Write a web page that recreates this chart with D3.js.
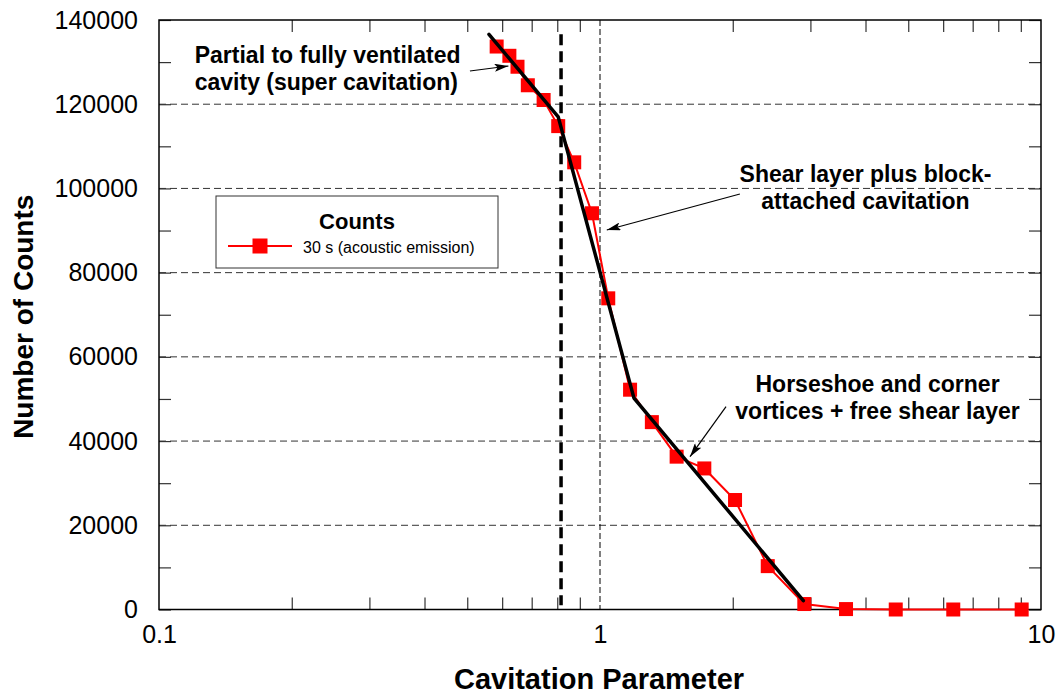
<!DOCTYPE html>
<html><head><meta charset="utf-8">
<script src="https://cdn.jsdelivr.net/npm/d3@7"></script>
<style>
html,body{margin:0;padding:0;background:#fff;}
text{font-family:"Liberation Sans",Arial,Helvetica,sans-serif;}
</style></head>
<body><svg id="c" width="1060" height="694"></svg>
<script>
// ---- data ----
const cavParam = [0.583,0.623,0.650,0.686,0.745,0.804,0.874,0.959,1.044,1.170,1.311,1.492,1.724,2.024,2.401,2.906,3.613,4.684,6.325,9.04];
const counts   = [133700,131500,128900,124500,121000,114800,106200,94100,73900,52200,44500,36300,33500,26000,10300,1300,100,0,0,0];
const fitX = [0.560,0.804,1.194,2.891];
const fitY = [136600,117000,50200,2100];
const thresholdX = 0.816;
const thresholdY = [136600,1000];
const xTickLabels = [0.1,1,10];
const yTickLabels = [0,20000,40000,60000,80000,100000,120000,140000];
const seriesName = "30 s (acoustic emission)";
const legendTitle = "Counts";
const annotations = [
  {lines:["Partial to fully ventilated","cavity (super cavitation)"], x:0.1205, y:129800, anchor:"start", from:[0.507,127890], to:[0.620,129080]},
  {lines:["Shear layer plus block-","attached cavitation"], x:4.0, y:101500, anchor:"middle", from:[2.076,98680], to:[1.036,90130]},
  {lines:["Horseshoe and corner","vortices + free shear layer"], x:4.26, y:51700, anchor:"middle", from:[1.931,48170], to:[1.600,36290]}
];

// ---- layout ----
const L=159, R=1041, T=20, B=609.5;
const svg = d3.select("#c");
const x = d3.scaleLog().domain([0.1,10]).range([L,R]);
const y = d3.scaleLinear().domain([0,140000]).range([B,T]);

const minorX = [];
for (const d of [0.1,1]) for (let k=2;k<=9;k++) minorX.push(+(d*k).toFixed(2));
const minorY = d3.range(0,140001,10000);

// grid
svg.append("g").selectAll("line").data(yTickLabels.filter(v=>v>0&&v<140000)).join("line")
  .attr("x1",L).attr("x2",R).attr("y1",d=>y(d)).attr("y2",d=>y(d))
  .attr("stroke","#333").attr("stroke-width",1).attr("stroke-dasharray","7,4");
svg.append("line").attr("x1",x(1)).attr("x2",x(1)).attr("y1",T).attr("y2",B)
  .attr("stroke","#000").attr("stroke-width",1).attr("stroke-dasharray","6,3");

// minor ticks (all four sides, inward)
function styleAx(g){ g.select(".domain").remove(); g.selectAll(".tick line").attr("stroke","#333").attr("stroke-width",1.2); }
svg.append("g").attr("transform",`translate(0,${B})`).call(d3.axisBottom(x).tickValues(minorX).tickFormat("").tickSizeInner(-12).tickSizeOuter(0)).call(styleAx);
svg.append("g").attr("transform",`translate(0,${T})`).call(d3.axisTop(x).tickValues(minorX).tickFormat("").tickSizeInner(-12).tickSizeOuter(0)).call(styleAx);
svg.append("g").attr("transform",`translate(${L},0)`).call(d3.axisLeft(y).tickValues(minorY).tickFormat("").tickSizeInner(-12).tickSizeOuter(0)).call(styleAx);
svg.append("g").attr("transform",`translate(${R},0)`).call(d3.axisRight(y).tickValues(minorY).tickFormat("").tickSizeInner(-12).tickSizeOuter(0)).call(styleAx);

// labels
const xl = svg.append("g").attr("transform",`translate(0,${B})`)
  .call(d3.axisBottom(x).tickValues(xTickLabels).tickFormat(d=>String(d)).tickSize(0).tickPadding(16));
xl.select(".domain").remove();
xl.selectAll("text").attr("font-size",25).attr("fill","#000").style("font-family","'Liberation Sans',Arial,sans-serif");
const yl = svg.append("g").attr("transform",`translate(${L},0)`)
  .call(d3.axisLeft(y).tickValues(yTickLabels).tickFormat(d=>String(d)).tickSize(0).tickPadding(21));
yl.select(".domain").remove();
yl.selectAll("text").attr("font-size",25).attr("fill","#000").style("font-family","'Liberation Sans',Arial,sans-serif");

// frame
svg.append("rect").attr("x",L).attr("y",T).attr("width",R-L).attr("height",B-T)
  .attr("fill","none").attr("stroke","#000").attr("stroke-width",1.5);

// titles
svg.append("text").attr("x",(L+R)/2-1).attr("y",689).attr("text-anchor","middle")
  .attr("font-size",29).attr("font-weight","bold").text("Cavitation Parameter");
svg.append("text").attr("transform",`translate(33,${(T+B)/2+2}) rotate(-90)`).attr("text-anchor","middle")
  .attr("font-size",28).attr("font-weight","bold").text("Number of Counts");

// threshold dashed line
svg.append("line").attr("x1",x(thresholdX)).attr("x2",x(thresholdX))
  .attr("y1",y(thresholdY[0])).attr("y2",y(thresholdY[1]))
  .attr("stroke","#000").attr("stroke-width",3.5).attr("stroke-dasharray","11,6");

// data series
const pts = cavParam.map((v,i)=>[v,counts[i]]);
svg.append("path").datum(pts).attr("fill","none").attr("stroke","#ff0000").attr("stroke-width",2)
  .attr("d",d3.line().x(d=>x(d[0])).y(d=>y(d[1])));
const ms=14;
svg.append("g").selectAll("rect").data(pts).join("rect")
  .attr("x",d=>x(d[0])-ms/2).attr("y",d=>y(d[1])-ms/2).attr("width",ms).attr("height",ms).attr("fill","#ff0000");

// fit line
svg.append("path").datum(fitX.map((v,i)=>[v,fitY[i]])).attr("fill","none").attr("stroke","#000")
  .attr("stroke-width",3.5).attr("stroke-linejoin","round").attr("stroke-linecap","round")
  .attr("d",d3.line().x(d=>x(d[0])).y(d=>y(d[1])));

// annotations
svg.append("defs").append("marker").attr("id","ah").attr("viewBox","0 0 14 8").attr("refX",14).attr("refY",4)
  .attr("markerWidth",14).attr("markerHeight",8).attr("markerUnits","userSpaceOnUse").attr("orient","auto")
  .append("path").attr("d","M0,0 L14,4 L0,8 L3,4 Z").attr("fill","#000");
annotations.forEach(a=>{
  const t = svg.append("text").attr("x",x(a.x)).attr("y",y(a.y)).attr("text-anchor",a.anchor)
    .attr("font-size",23).attr("font-weight","bold");
  a.lines.forEach((s,i)=>t.append("tspan").attr("x",x(a.x)).attr("dy",i?27:0).text(s));
  svg.append("line").attr("x1",x(a.from[0])).attr("y1",y(a.from[1])).attr("x2",x(a.to[0])).attr("y2",y(a.to[1]))
    .attr("stroke","#000").attr("stroke-width",1.2).attr("marker-end","url(#ah)");
});

// legend
const lg = svg.append("g");
lg.append("rect").attr("x",216).attr("y",196).attr("width",282).attr("height",72)
  .attr("fill","#fff").attr("stroke","#333").attr("stroke-width",1);
lg.append("text").attr("x",357).attr("y",229).attr("text-anchor","middle").attr("font-size",22).attr("font-weight","bold").text(legendTitle);
lg.append("line").attr("x1",228).attr("x2",292).attr("y1",246).attr("y2",246).attr("stroke","#ff0000").attr("stroke-width",2);
lg.append("rect").attr("x",260-7.5).attr("y",246-7.5).attr("width",15).attr("height",15).attr("fill","#ff0000");
lg.append("text").attr("x",303).attr("y",253).attr("font-size",16).text(seriesName);
</script></body></html>
